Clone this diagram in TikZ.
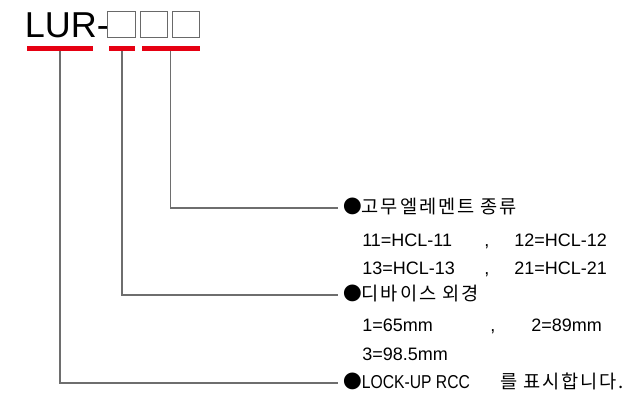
\documentclass[tikz,border=0pt]{standalone}
\usepackage{fontspec}
\setmainfont{Liberation Sans}
\newfontfamily\kr{Noto Sans CJK KR}[LetterSpace=10]
\newfontfamily\bulfont{Noto Sans CJK KR}
\definecolor{lurred}{RGB}{230,0,18}
\definecolor{conngray}{RGB}{110,110,110}
\definecolor{slotgray}{RGB}{105,105,105}
\tikzset{
  bigtxt/.style={inner sep=0, anchor=base west, font=\fontsize{27pt}{30pt}\selectfont},
  slot/.style={draw=slotgray, line width=0.9pt, inner sep=0, minimum width=20.5pt, minimum height=19.5pt},
  bar/.style={fill=lurred, draw=none, inner sep=0, minimum height=3.8pt},
  conn/.style={draw=conngray, line width=0.8pt, shorten >=3.5pt},
  head/.style={inner sep=0, anchor=west, text height=10.5pt, text depth=2.5pt, font=\fontsize{14pt}{16pt}\selectfont},
  num/.style={inner sep=0, anchor=west, text height=9.7pt, text depth=0pt, font=\fontsize{13.5pt}{16pt}\selectfont},
}
\begin{document}
\begin{tikzpicture}[x=0.75pt,y=-0.75pt]
\useasboundingbox (0,0) rectangle (634,392);
% title
\node[bigtxt] (lur) at (24.5,38) {LUR-};
\node[slot] (s1) at (121.5,24.5) {};
\node[slot] (s2) at (154,24.5) {};
\node[slot] (s3) at (186,24.5) {};
% red bars
\node[bar, minimum width=49.5pt] (r1) at (60,48.5) {};
\node[bar, minimum width=19.5pt] (r2) at (122,48.5) {};
\node[bar, minimum width=43.5pt] (r3) at (170.5,48.5) {};
% headings
\node[head] (h1) at (343,208) {{\bulfont ●}{\kr 고무엘레멘트 종류}};
\node[head] (h2) at (343,295) {{\bulfont ●}{\kr 디바이스 외경}};
\node[head] (h3) at (343,383) {{\bulfont ●}\scalebox{0.84}[1]{LOCK-UP RCC}};
\node[head] (h3b) at (500,383) {\kr 를 표시합니다.};
% values
\node[num] (v11) at (362,240) {11=HCL-11};
\node[num] (c1) at (484,240) {,};
\node[num] (v12) at (514,240) {12=HCL-12};
\node[num] (v13) at (362,268) {13=HCL-13};
\node[num] (c2) at (484,268) {,};
\node[num] (v21) at (514,268) {21=HCL-21};
\node[num] (v1) at (362,325) {1=65mm};
\node[num] (c3) at (490,325) {,};
\node[num] (v2) at (531,325) {2=89mm};
\node[num] (v3) at (362,354) {3=98.5mm};
% connectors
\draw[conn] (r3.south) |- (h1.west);
\draw[conn] (r2.south) |- (h2.west);
\draw[conn] (r1.south) |- (h3.west);
\end{tikzpicture}
\end{document}
